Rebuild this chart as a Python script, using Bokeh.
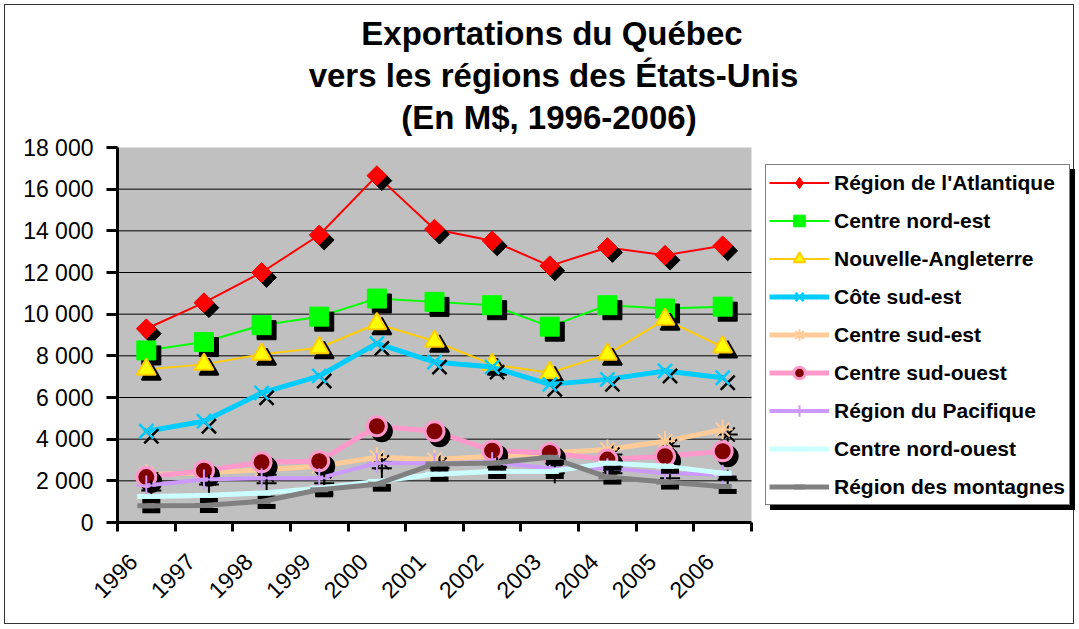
import math
import numpy as np
from bokeh.plotting import figure
from bokeh.models import (Range1d, FixedTicker, LinearAxis, Legend, LegendItem, Label,
                          ColumnDataSource, BoxAnnotation)
from bokeh.embed import file_html
from bokeh.resources import INLINE

# ---------------- data ----------------
years = ["1996", "1997", "1998", "1999", "2000", "2001", "2002", "2003", "2004", "2005", "2006"]
atlantique = [9300, 10550, 12000, 13800, 16650, 14080, 13520, 12320, 13200, 12830, 13280]
centre_nord_est = [8260, 8660, 9470, 9880, 10750, 10590, 10430, 9400, 10430, 10270, 10360]
nouvelle_angleterre = [7350, 7590, 8070, 8390, 9540, 8700, 7590, 7190, 8070, 9750, 8420]
cote_sud_est = [4380, 4860, 6220, 7030, 8600, 7700, 7460, 6630, 6870, 7270, 6950]
centre_sud_est = [2300, 2370, 2530, 2700, 3130, 3020, 3180, 3340, 3500, 3900, 4460]
centre_sud_ouest = [2180, 2490, 2890, 2940, 4620, 4380, 3450, 3340, 3020, 3180, 3420]
pacifique = [1780, 2060, 2130, 2130, 2850, 2850, 2890, 2610, 2610, 2370, 2290]
centre_nord_ouest = [1250, 1300, 1410, 1650, 1970, 2320, 2450, 2450, 2850, 2700, 2370]
montagnes = [800, 820, 1010, 1570, 1840, 2810, 2850, 3130, 2180, 1940, 1730]

series_names = ["Région de l'Atlantique", "Centre nord-est", "Nouvelle-Angleterre",
                "Côte sud-est", "Centre sud-est", "Centre sud-ouest",
                "Région du Pacifique", "Centre nord-ouest", "Région des montagnes"]
series_values = [atlantique, centre_nord_est, nouvelle_angleterre, cote_sud_est,
                 centre_sud_est, centre_sud_ouest, pacifique, centre_nord_ouest, montagnes]

y_ticks = [0, 2000, 4000, 6000, 8000, 10000, 12000, 14000, 16000, 18000]
y_tick_labels = ["0", "2 000", "4 000", "6 000", "8 000", "10 000", "12 000",
                 "14 000", "16 000", "18 000"]
y_max = 18000

title_lines = ["Exportations du Québec", "vers les régions des États-Unis", "(En M$, 1996-2006)"]

# category slots: each year occupies one unit, point at the slot centre
n = len(years)
x_pos = [i + 0.5 for i in range(n)]
x_edges = list(range(n + 1))

# ---------------- styles ----------------
styles = [
    dict(color="#FF0000", lw=2, marker="square", angle=math.pi / 4, size=14, fill="#FF0000", mline="#FF0000", mlw=1, filled=True, legend_marker="diamond"),
    dict(color="#00FF00", lw=2, marker="square", angle=0, size=19, fill="#00FF00", mline="#00FF00", mlw=1, filled=True, legend_marker=None),
    dict(color="#FFCC00", lw=2, marker="triangle", angle=0, size=19, fill="#FFFF00", mline="#FFCC00", mlw=2, filled=True, legend_marker=None),
    dict(color="#00CCFF", lw=5, marker="x", angle=0, size=20, fill=None, mline="#00CCFF", mlw=2.5, filled=False, legend_marker=None),
    dict(color="#FFCC99", lw=5, marker="asterisk", angle=0, size=20, fill=None, mline="#FFCC99", mlw=2, filled=False, legend_marker=None),
    dict(color="#FF99CC", lw=5, marker="circle", angle=0, size=19, fill="#800000", mline="#FF99CC", mlw=3, filled=True, legend_marker=None),
    dict(color="#CC99FF", lw=4, marker="cross", angle=0, size=20, fill=None, mline="#CC99FF", mlw=2, filled=False, legend_marker=None),
    dict(color="#CCFFFF", lw=5, marker="dash", angle=0, size=18, fill=None, mline="#CCFFFF", mlw=5, filled=False, legend_marker=None),
    dict(color="#808080", lw=5, marker="dash", angle=0, size=18, fill=None, mline="#808080", mlw=5, filled=False, legend_marker=None),
]

# ---------------- layout (pixels) ----------------
W, H = 1070, 620
FL = 112          # frame left (y axis) in figure px
FB = 517          # frame bottom (x axis) in figure px
PLOT_W = 634      # width of the grey plot area
PLOT_H = 375      # height of the grey plot area (0..18000)
slot_px = PLOT_W / n
x_end = (W - FL) / slot_px
y_end = FB / PLOT_H * y_max
shadow_dy = 5 * y_max / PLOT_H
shadow_dx = 5 / slot_px

p = figure(x_range=Range1d(0, x_end), y_range=Range1d(0, y_end),
           width=W, height=H, output_backend="svg", toolbar_location=None,
           x_axis_location=None)
p.margin = (4, 0, 0, 4)
p.styles = {"border": "1px solid #333"}
p.min_border_left = FL
p.min_border_right = 0
p.min_border_top = 0
p.min_border_bottom = H - FB
p.background_fill_color = "white"
p.border_fill_color = "white"
p.outline_line_color = None
p.xgrid.visible = False
p.ygrid.visible = False

# grey plot area + horizontal grid lines
p.add_layout(BoxAnnotation(left=0, right=n, bottom=0, top=y_max, fill_color="#C0C0C0",
                           fill_alpha=1, line_alpha=0, level="underlay"))
grid_y = y_ticks[1:-1]
p.segment(x0=[0] * len(grid_y), x1=[n] * len(grid_y), y0=grid_y, y1=grid_y,
          line_color="black", line_width=1)

# y axis
ya = p.yaxis[0]
ya.bounds = (0, y_max)
ya.ticker = FixedTicker(ticks=y_ticks)
ya.major_label_overrides = {t: s for t, s in zip(y_ticks, y_tick_labels)}
ya.axis_line_width = 3
ya.major_tick_line_width = 3
ya.major_tick_out = 11
ya.major_tick_in = 0
ya.minor_tick_line_color = None
ya.major_label_standoff = 13
ya.major_label_text_font = "Liberation Sans"
ya.major_label_text_font_size = "23px"
ya.major_label_text_color = "black"

# x axes: boundary ticks + year labels
edge_axis = LinearAxis(ticker=FixedTicker(ticks=x_edges), bounds=(0, n),
                       major_label_text_font_size="0px", major_label_standoff=0,
                       major_tick_out=9, major_tick_in=0, minor_tick_line_color=None,
                       axis_line_width=3, major_tick_line_width=3)
edge_axis.major_label_overrides = {e: "" for e in x_edges}
p.add_layout(edge_axis, "below")
lab_ticks = [xp - 0.23 for xp in x_pos]
lab_axis = LinearAxis(ticker=FixedTicker(ticks=lab_ticks), axis_line_color=None,
                      major_tick_line_color=None, minor_tick_line_color=None,
                      major_label_orientation=math.pi / 4, major_label_standoff=20,
                      major_label_text_font="Liberation Sans",
                      major_label_text_font_size="23px", major_label_text_color="black")
lab_axis.major_label_overrides = {t: y for t, y in zip(lab_ticks, years)}
p.add_layout(lab_axis, "below")

items = []
for name, vals, st in zip(series_names, series_values, styles):
    src = ColumnDataSource(dict(x=x_pos, y=vals, xs=np.array(x_pos) + shadow_dx,
                                ys=np.array(vals) - shadow_dy))
    lr = p.line("x", "y", source=src, line_color=st["color"], line_width=st["lw"])
    if st["filled"]:
        p.scatter("xs", "ys", source=src, marker=st["marker"], size=st["size"], angle=st["angle"],
                  fill_color="black", line_color="black", line_width=st["mlw"])
        mr = p.scatter("x", "y", source=src, marker=st["marker"], size=st["size"], angle=st["angle"],
                       fill_color=st["fill"], line_color=st["mline"], line_width=st["mlw"])
    else:
        p.scatter("xs", "ys", source=src, marker=st["marker"], size=st["size"],
                  line_color="black", line_width=st["mlw"])
        mr = p.scatter("x", "y", source=src, marker=st["marker"], size=st["size"],
                       line_color=st["mline"], line_width=st["mlw"])
    if st["legend_marker"]:
        # legend-only marker: no drawable point in the plot (NaN placeholder)
        mr = p.scatter(x=[np.nan], y=[np.nan], marker=st["legend_marker"], size=st["size"],
                       fill_color=st["fill"], line_color=st["mline"], line_width=st["mlw"])
    items.append(LegendItem(label=name, renderers=[lr, mr]))

# invisible renderer for the legend's drop shadow
dummy = p.line(x_pos, montagnes, line_alpha=0)
legend_kw = dict(label_text_font="Liberation Sans", label_text_font_style="bold",
                 label_text_font_size="21px", glyph_width=60, glyph_height=29,
                 spacing=9, padding=3, margin=0, label_standoff=5, label_width=232,
                 border_line_width=1)
LX, LY = 648, 17   # legend bottom-left, relative to the frame's bottom-left
shadow_legend = Legend(items=[LegendItem(label=" ", renderers=[dummy]) for _ in series_names],
                       location=(LX + 5, LY - 5), background_fill_color="black",
                       background_fill_alpha=1, border_line_color="black",
                       label_text_color="black", **legend_kw)
p.add_layout(shadow_legend)
legend = Legend(items=items, location=(LX, LY), background_fill_color="white",
                background_fill_alpha=1, border_line_color="black",
                label_text_color="black", **legend_kw)
p.add_layout(legend)

# title (three centred lines)
for line, cx, base in zip(title_lines, [434.5, 436, 431.5], [489, 447, 405]):
    p.add_layout(Label(x=cx, y=base, x_units="screen", y_units="screen", text=line,
                       text_align="center", text_baseline="alphabetic",
                       text_font="Liberation Sans", text_font_style="bold",
                       text_font_size="33px", text_color="black"))

open("out.html", "w").write(file_html(p, INLINE))
